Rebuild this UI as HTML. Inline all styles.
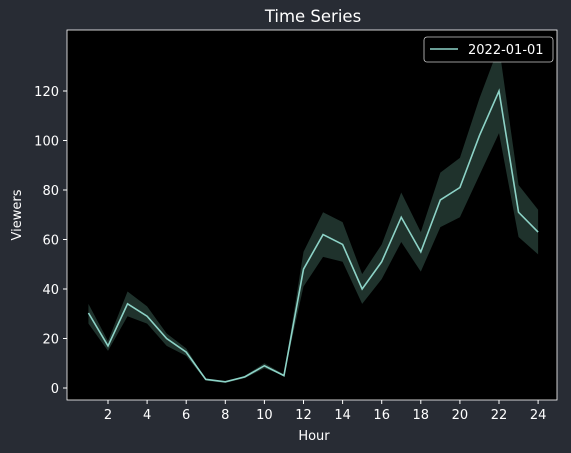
<!DOCTYPE html>
<html><head><meta charset="utf-8">
<style>
html,body{margin:0;padding:0;background:#282c34;}
svg{display:block;font-family:"DejaVu Sans","Liberation Sans",sans-serif;}
</style></head>
<body>
<svg width="571" height="453" viewBox="0 0 571 453" xmlns="http://www.w3.org/2000/svg">
<rect x="0" y="0" width="571" height="453" fill="#282c34"/>
<rect x="67" y="30" width="490" height="370" fill="#000" stroke="#fff" stroke-width="0.8"/>
<text x="313" y="22" fill="#fff" font-size="16.5" text-anchor="middle">Time Series</text>
<text x="314" y="440" fill="#fff" font-size="13" text-anchor="middle">Hour</text>
<text x="21" y="215" fill="#fff" font-size="13" text-anchor="middle" transform="rotate(-90 21 215)">Viewers</text>
<g id="xticks"></g>
<g id="yticks"></g>
<path id="band" fill="#1f322c"/>
<path id="line" fill="none" stroke="#8dd3c7" stroke-width="1.6"/>
<g>
<rect x="424" y="37" width="129" height="25" rx="3" fill="#000" stroke="#ccc" stroke-width="0.8"/>
<line x1="430" y1="49" x2="458" y2="49" stroke="#8dd3c7" stroke-width="1.6"/>
<text x="468" y="54" fill="#fff" font-size="13">2022-01-01</text>
</g>
</svg>
<script>
const hours=[1,2,3,4,5,6,7,8,9,10,11,12,13,14,15,16,17,18,19,20,21,22,23,24];
const viewers=[30.3,17,34,29,20,14.5,3.5,2.5,4.5,9,5,48,62,58,40,51,69,55,76,81,102,120,71,63];
const lower=[26,15,29,26,17,13,3,2,4,8,5,41,53,51,34,44,59,47,65,69,86,103,61,54];
const upper=[34,19,39,33,22,16,3.5,2.5,5,10,5.5,55,71,67,46,58,79,63,87,93,117,138,82,72];
const xTicks=[2,4,6,8,10,12,14,16,18,20,22,24];
const yTicks=[0,20,40,60,80,100,120];
const NS="http://www.w3.org/2000/svg";
const xs=h=>108+(h-2)*19.55;
const ys=v=>388-v*2.475;
const xg=document.getElementById('xticks'),yg=document.getElementById('yticks');
xTicks.forEach(t=>{
 const l=document.createElementNS(NS,'line');
 l.setAttribute('x1',xs(t));l.setAttribute('x2',xs(t));l.setAttribute('y1',400);l.setAttribute('y2',404);
 l.setAttribute('stroke','#fff');
 
 
 xg.appendChild(l);
 const tx=document.createElementNS(NS,'text');
 tx.setAttribute('x',xs(t));tx.setAttribute('y',419);tx.setAttribute('fill','#fff');tx.setAttribute('font-size','13');tx.setAttribute('text-anchor','middle');
 tx.textContent=t;
 
 
 xg.appendChild(tx);
});
yTicks.forEach(t=>{
 const l=document.createElementNS(NS,'line');
 l.setAttribute('x1',63);l.setAttribute('x2',67);l.setAttribute('y1',ys(t));l.setAttribute('y2',ys(t));
 l.setAttribute('stroke','#fff');
 
 
 yg.appendChild(l);
 const tx=document.createElementNS(NS,'text');
 tx.setAttribute('x',59);tx.setAttribute('y',ys(t)+5);tx.setAttribute('fill','#fff');tx.setAttribute('font-size','13');tx.setAttribute('text-anchor','end');
 tx.textContent=t;
 
 
 yg.appendChild(tx);
});
let bd=hours.map((h,i)=>(i?'L':'M')+xs(h)+','+ys(upper[i])).join(' ');
for(let i=hours.length-1;i>=0;i--)bd+=' L'+xs(hours[i])+','+ys(lower[i]);
document.getElementById('band').setAttribute('d',bd+' Z');
document.getElementById('line').setAttribute('d',hours.map((h,i)=>(i?'L':'M')+xs(h)+','+ys(viewers[i])).join(' '));
</script>
</body></html>
